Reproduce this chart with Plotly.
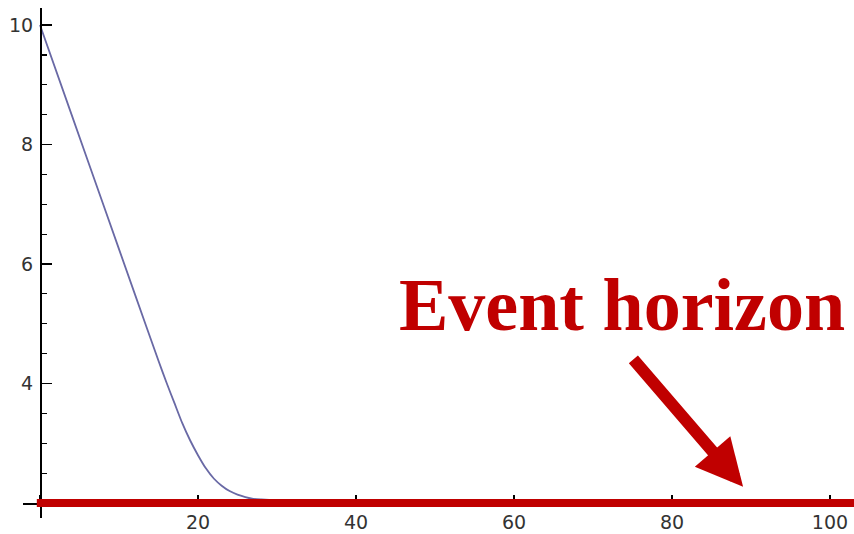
import plotly.graph_objects as go

# Curve data
curve_x = [0, 4, 8, 12, 15, 16, 17, 18, 19, 20, 21, 22, 23, 24, 25, 26, 27, 28, 30, 40, 60, 80, 100, 104]
curve_y = [10, 8.5, 7.0, 5.5, 4.38, 4.02, 3.68, 3.34, 3.05, 2.80, 2.58, 2.41, 2.29, 2.20, 2.14, 2.10, 2.07, 2.06, 2.05, 2.05, 2.05, 2.05, 2.05, 2.05]

x_tickvals = [0, 20, 40, 60, 80, 100]
x_ticktext = ["", "20", "40", "60", "80", "100"]
y_tickvals = [2, 4, 6, 8, 10]
y_ticktext = ["", "4", "6", "8", "10"]

horizon_y = 2
label_text = "Event horizon"

W, H = 854, 534
ml, mr, mt, mb = 0, 0, 8, 16
x_range = [-2.15, 103.04]
y_range = [1.749, 10.285]
x_dom = [23 / W, 1]
yaxis_pos = 40 / W
xaxis_pos = (horizon_y - y_range[0]) / (y_range[1] - y_range[0])

fig = go.Figure()
fig.add_trace(go.Scatter(
    x=curve_x, y=curve_y, mode="lines",
    line=dict(color="rgb(105,105,165)", width=1.8, shape="spline", smoothing=0.6),
    showlegend=False, hoverinfo="skip",
))

tick_font = dict(family="DejaVu Sans", size=19, color="#333333")

fig.update_layout(
    width=W, height=H,
    margin=dict(l=ml, r=mr, t=mt, b=mb, pad=0),
    paper_bgcolor="white", plot_bgcolor="white",
    showlegend=False,
    xaxis=dict(
        range=x_range, domain=x_dom, anchor="free", position=xaxis_pos,
        showgrid=False, zeroline=False, showline=True, linecolor="black", linewidth=1.5,
        tickmode="array", tickvals=x_tickvals, ticktext=x_ticktext,
        ticks="inside", ticklen=8, tickwidth=1.5, tickcolor="black",
        minor=dict(ticks="inside", ticklen=4, tickwidth=1, tickcolor="black",
                   tickmode="linear", tick0=0, dtick=5, showgrid=False),
        tickfont=tick_font, ticklabelstandoff=2,
    ),
    yaxis=dict(
        range=y_range, domain=[0, 1], anchor="free", position=yaxis_pos,
        showgrid=False, zeroline=False, showline=True, linecolor="black", linewidth=1.5,
        tickmode="array", tickvals=y_tickvals, ticktext=y_ticktext,
        ticks="inside", ticklen=10, tickwidth=1.5, tickcolor="black",
        minor=dict(ticks="inside", ticklen=5, tickwidth=1.2, tickcolor="black",
                   tickmode="linear", tick0=0, dtick=0.5, showgrid=False),
        tickfont=tick_font, ticklabelstandoff=3,
    ),
)

# Red event horizon line
fig.add_shape(type="line", xref="x", yref="y",
              x0=-0.4, x1=104, y0=horizon_y, y1=horizon_y,
              line=dict(color="#C00000", width=8), layer="above")

# Label
fig.add_annotation(text="<b>" + label_text + "</b>", xref="paper", yref="paper",
                   x=(628 - 23) / (854 - 23), y=1 - (305 - mt) / (H - mt - mb),
                   xanchor="center", yanchor="middle", showarrow=False,
                   font=dict(family="Liberation Serif", size=74, color="#C00000"))

# Arrow
fig.add_annotation(text="", x=89.0, y=2.27, xref="x", yref="y",
                   ax=-111, ay=-129, axref="pixel", ayref="pixel",
                   showarrow=True, arrowhead=2, arrowsize=0.78, arrowwidth=12,
                   arrowcolor="#C00000", standoff=0)

fig.write_html(
    "out.html",
    config={"displayModeBar": False, "staticPlot": True},
    post_script="document.body.style.margin='0';document.body.style.overflow='hidden';",
)
